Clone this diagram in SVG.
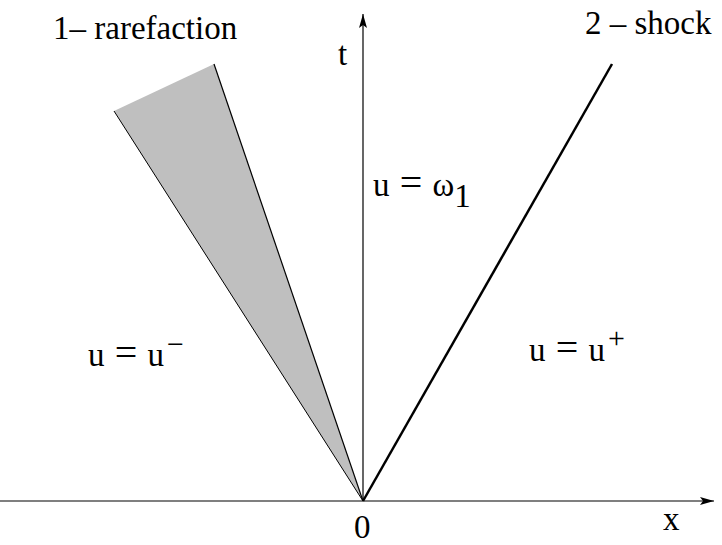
<svg xmlns="http://www.w3.org/2000/svg" width="722" height="545" viewBox="0 0 722 545">
<style>
text{font-family:"Liberation Serif","Times New Roman",serif;font-size:33px;fill:#000}
.sup{font-size:30px}
.eq{font-size:40px}
.ax{stroke:#000;stroke-width:1.2;fill:none}
</style>
<defs>
<marker id="arr" viewBox="0 0 14 8" refX="14" refY="4" markerWidth="14" markerHeight="8" markerUnits="userSpaceOnUse" orient="auto">
<path d="M0,0 L14,4 L0,8 L3,4 Z" fill="#000"/>
</marker>
</defs>
<rect width="722" height="545" fill="#fff"/>
<g id="axes">
<line class="ax" x1="0" y1="501" x2="714" y2="501" marker-end="url(#arr)"/>
<line class="ax" x1="363" y1="501" x2="363" y2="14" marker-end="url(#arr)"/>
</g>
<g id="rarefaction">
<polygon points="363,501 114,111 214,64" fill="#bfbfbf"/>
<line x1="363" y1="501" x2="114" y2="111" stroke="#000" stroke-width="1"/>
<line x1="363" y1="501" x2="214" y2="64" stroke="#000" stroke-width="1.2"/>
</g>
<g id="shock">
<line x1="363" y1="501" x2="612" y2="64" stroke="#000" stroke-width="2.5"/>
</g>
<g id="labels">
<text x="53" y="39">1– rarefaction</text>
<text x="585" y="34">2 – shock</text>
<text x="338" y="65">t</text>
<text x="373" y="196">u <tspan class="eq" dx="2">=</tspan> <tspan dx="2">ω</tspan><tspan dy="11">1</tspan></text>
<text x="88" y="366">u <tspan class="eq" dx="2">=</tspan> <tspan dx="2">u</tspan><tspan class="sup" dx="3" dy="-12">−</tspan></text>
<text x="529" y="361">u <tspan class="eq" dx="2">=</tspan> <tspan dx="2">u</tspan><tspan class="sup" dx="3" dy="-13">+</tspan></text>
<text x="354" y="538">0</text>
<text x="663" y="530">x</text>
</g>
</svg>
